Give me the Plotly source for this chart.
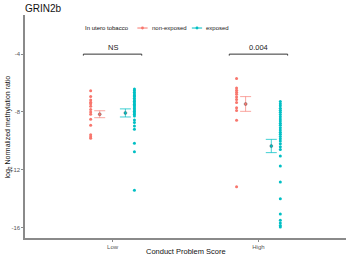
import plotly.graph_objects as go

# ---- data ----
groups = ["Low", "High"]
low_nonexposed = [-6.54, -6.94, -7.17, -7.33, -7.44, -7.60, -7.84, -8.00, -8.16, -8.50, -8.92, -9.58, -9.72, -9.83]
low_exposed = [-6.42, -6.52, -6.63, -6.76, -6.86, -6.94, -7.06, -7.17, -7.27, -7.36, -7.47, -7.56, -7.66,
               -7.77, -7.86, -7.96, -8.06, -8.17, -8.28, -8.56, -8.74, -8.97, -9.20, -10.17, -10.76, -13.42]
high_nonexposed = [-5.69, -6.35, -6.50, -6.64, -6.78, -6.96, -7.14, -7.34, -7.72, -7.91, -8.58, -13.19]
high_exposed = [-7.28, -7.43, -7.58, -7.74, -7.88, -8.03, -8.18, -8.33, -8.49, -8.63, -8.79, -8.93,
                -9.10, -9.25, -9.40, -9.55, -9.71, -9.86, -10.02, -10.20, -10.41, -10.60,
                -11.05, -11.75, -12.86, -14.02, -15.06, -15.50, -15.69, -15.87, -15.96]
mean_nonexposed = [-8.16, -7.45]
se_nonexposed = [0.24, 0.51]
mean_exposed = [-8.07, -10.36]
se_exposed = [0.28, 0.46]
sig_labels = ["NS", "0.004"]
sig_y = -4.0
y_ticks = [-4, -8, -12, -16]
legend_title = "In utero tobacco"
legend_names = ["non-exposed", "exposed"]

RED = "#F8766D"
TEAL = "#00BFC4"
FONT = "Liberation Sans"
pos = {g: i + 1 for i, g in enumerate(groups)}
dodge_pts = 0.15
dodge_mean = 0.088

fig = go.Figure()

def add_points(vals, g, off, color):
    fig.add_trace(go.Scatter(x=[pos[g] + off] * len(vals), y=vals, mode="markers",
                             marker=dict(color=color, size=3, line=dict(width=0)),
                             showlegend=False, hoverinfo="y"))

add_points(low_nonexposed, "Low", -dodge_pts, RED)
add_points(low_exposed, "Low", dodge_pts, TEAL)
add_points(high_nonexposed, "High", -dodge_pts, RED)
add_points(high_exposed, "High", dodge_pts, TEAL)

for means, ses, off, color, ecol in [
    (mean_nonexposed, se_nonexposed, -dodge_mean, RED, "rgba(248,118,109,0.65)"),
    (mean_exposed, se_exposed, dodge_mean, TEAL, "rgba(0,191,196,0.75)"),
]:
    fig.add_trace(go.Scatter(
        x=[pos[g] + off for g in groups], y=means, mode="markers",
        marker=dict(color=color, size=3, line=dict(width=0.6, color="rgba(60,60,60,0.6)")),
        error_y=dict(type="data", array=ses, visible=True, color=ecol, thickness=1, width=5.5),
        showlegend=False))

# significance brackets
for g, lab in zip(groups, sig_labels):
    x0, x1 = pos[g] - 0.2, pos[g] + 0.2
    fig.add_shape(type="line", x0=x0, x1=x1, y0=sig_y, y1=sig_y, line=dict(color="#333", width=1))
    for xx in (x0, x1):
        fig.add_shape(type="line", x0=xx, x1=xx, y0=sig_y, y1=sig_y - 0.1, line=dict(color="#333", width=1))
    fig.add_annotation(x=pos[g], y=sig_y, text=lab, showarrow=False, yanchor="bottom", yshift=0,
                       font=dict(size=7.5, color="#222", family=FONT))

# compact ggplot-style legend (paper coordinates)
LEG_Y = 0.9416
fig.add_annotation(text=legend_title, xref="paper", yref="paper", x=0.1807, y=LEG_Y,
                   xanchor="left", yanchor="middle", showarrow=False,
                   font=dict(size=6, color="#111", family=FONT))
for name, color, key_x, text_x in [(legend_names[0], RED, 0.3660, 0.3894),
                                    (legend_names[1], TEAL, 0.5358, 0.5576)]:
    fig.add_shape(type="line", xref="paper", yref="paper", x0=key_x - 0.016, x1=key_x + 0.016,
                  y0=LEG_Y, y1=LEG_Y, line=dict(color=color, width=1))
    fig.add_shape(type="circle", xref="paper", yref="paper", xsizemode="pixel", ysizemode="pixel",
                  xanchor=key_x, yanchor=LEG_Y, x0=-1.4, x1=1.4, y0=-1.4, y1=1.4,
                  fillcolor=color, line=dict(width=0))
    fig.add_annotation(text=name, xref="paper", yref="paper", x=text_x, y=LEG_Y,
                       xanchor="left", yanchor="middle", showarrow=False,
                       font=dict(size=6, color="#222", family=FONT))

axis_common = dict(showline=True, linecolor="#8a8a8a", linewidth=1.6, ticks="outside", ticklen=2,
                   tickcolor="#8a8a8a", showgrid=False, zeroline=False, automargin=False,
                   tickfont=dict(size=6, color="#555", family=FONT))

fig.update_layout(
    width=350, height=258,
    margin=dict(l=25, r=4, t=15, b=20),
    paper_bgcolor="white", plot_bgcolor="white",
    font=dict(family=FONT),
    showlegend=False,
    title=dict(text="GRIN2b", x=25 / 350, xanchor="left", y=1 - 8 / 258, yanchor="middle",
               font=dict(size=10, color="#111", family=FONT)),
    xaxis=dict(range=[0.4, 2.6], tickvals=[pos[g] for g in groups], ticktext=groups, **axis_common),
    yaxis=dict(range=[-16.73, -1.29], tickvals=y_ticks, ticktext=[str(v) for v in y_ticks], **axis_common),
)

# axis titles
fig.add_annotation(text="Conduct Problem Score", xref="paper", yref="paper", x=0.5, y=-0.06,
                   yanchor="middle", showarrow=False, font=dict(size=7.5, color="#111", family=FONT))
fig.add_annotation(text="log<sub>2</sub> Normalized methylation ratio", xref="paper", yref="paper",
                   x=-0.053, y=0.5, textangle=-90, xanchor="center", yanchor="middle", showarrow=False,
                   font=dict(size=7, color="#111", family=FONT))

fig.write_html("out.html", config={"displayModeBar": False, "staticPlot": True},
               post_script="document.body.style.margin='0';document.body.style.padding='0';")
